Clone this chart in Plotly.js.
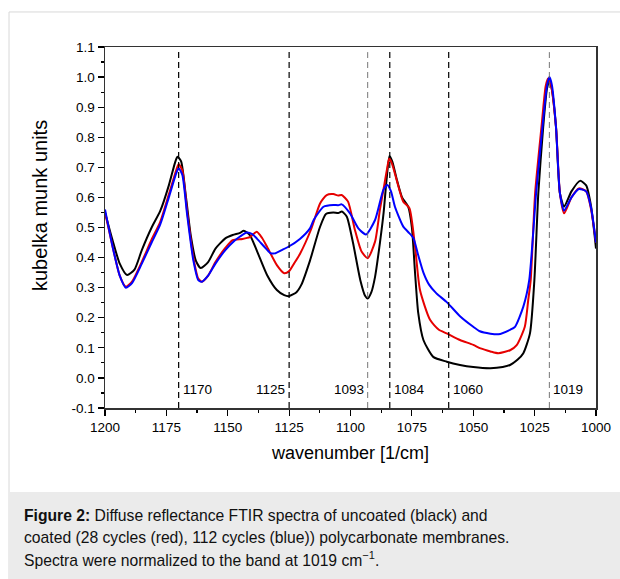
<!DOCTYPE html>
<html>
<head>
<meta charset="utf-8">
<script src="https://cdn.plot.ly/plotly-3.0.1.min.js"></script>
<style>
html,body{margin:0;padding:0;background:#fff;}
#chart{width:620px;height:579px;}
</style>
</head>
<body>
<div id="chart"></div>
<script>
// ---- data ----
const wnBlack = [1200,1197,1194,1191,1188,1185,1181,1177.5,1174,1171.5,1170.5,1169,1167,1165,1163,1161,1158,1155,1151,1148,1145,1143.5,1141,1138,1134,1130,1127,1125,1122,1120,1116.5,1112.5,1110,1107,1105,1103.5,1101.5,1099,1096,1094,1093,1091.5,1090,1088,1086.5,1085.3,1084.1,1083,1081,1079,1076.5,1075,1073.7,1072.4,1070.3,1066.3,1060.8,1055.4,1050,1043,1038,1035,1032,1029.6,1026.9,1025.1,1023.5,1021.5,1020,1019,1018,1016.3,1014.7,1013,1010,1006.5,1004,1002,1000];
const uncoated = [0.55,0.46,0.38,0.342,0.36,0.425,0.50,0.555,0.64,0.715,0.735,0.72,0.60,0.47,0.39,0.365,0.385,0.43,0.464,0.475,0.482,0.489,0.475,0.42,0.342,0.292,0.275,0.272,0.285,0.31,0.39,0.50,0.545,0.55,0.548,0.553,0.536,0.45,0.325,0.272,0.264,0.285,0.336,0.45,0.55,0.66,0.738,0.72,0.655,0.60,0.569,0.50,0.348,0.215,0.126,0.07,0.054,0.043,0.036,0.032,0.036,0.043,0.06,0.082,0.148,0.325,0.614,0.835,0.96,0.99,0.96,0.835,0.614,0.569,0.62,0.655,0.64,0.57,0.43];

const wnRed = [1200,1197,1194,1191.5,1189,1185,1181,1177.5,1174,1171,1170,1168.5,1166.5,1164,1162,1160.5,1158,1155,1151,1148,1144,1141,1138.2,1136,1134,1130,1127,1125,1123,1120.6,1116,1112.4,1109.7,1107,1105,1103.6,1101,1098.2,1095.5,1093,1090,1088,1086.6,1085,1084.2,1083,1081.2,1078.5,1076,1073.7,1071.7,1067.6,1064,1060.8,1055.4,1050,1047,1043,1039.8,1035,1032.3,1029,1027.6,1026.6,1024.8,1022.2,1020.5,1019.5,1018.5,1016.3,1014.7,1013,1010,1007,1004,1002,1000];
const cycles28 = [0.55,0.44,0.34,0.303,0.32,0.386,0.46,0.519,0.61,0.69,0.711,0.69,0.55,0.40,0.33,0.32,0.34,0.385,0.432,0.458,0.462,0.468,0.486,0.465,0.436,0.375,0.348,0.355,0.38,0.412,0.495,0.58,0.608,0.611,0.606,0.608,0.586,0.492,0.42,0.398,0.453,0.56,0.625,0.70,0.730,0.71,0.658,0.586,0.564,0.436,0.292,0.193,0.16,0.148,0.126,0.11,0.098,0.088,0.082,0.092,0.109,0.17,0.259,0.325,0.614,0.835,0.97,0.995,0.98,0.835,0.614,0.547,0.60,0.63,0.62,0.56,0.45];

const wnBlue = [1200,1197,1194,1191.5,1189,1185,1181,1177.5,1174,1171,1170,1168.5,1166.5,1164,1162,1160.5,1158,1155,1151,1147.7,1145,1142.3,1140,1138.2,1135,1132.8,1130.8,1128,1125.3,1120.6,1116.5,1115,1111,1107,1105,1103.6,1100.2,1096.8,1093.7,1090,1086.6,1085,1083.5,1081.9,1078.5,1076.5,1074.4,1072.5,1070.3,1068,1065,1060.8,1055.4,1050,1047.3,1043,1039.8,1035,1033,1029.6,1027.2,1024.4,1021.8,1020,1019,1018,1016.3,1014.7,1013,1010,1007,1004,1002,1000];
const cycles112 = [0.56,0.44,0.34,0.300,0.315,0.38,0.45,0.51,0.60,0.68,0.697,0.675,0.54,0.39,0.325,0.32,0.34,0.38,0.425,0.453,0.47,0.483,0.478,0.464,0.435,0.416,0.414,0.425,0.436,0.462,0.497,0.525,0.569,0.575,0.574,0.577,0.547,0.497,0.477,0.525,0.625,0.641,0.62,0.569,0.503,0.485,0.465,0.41,0.35,0.31,0.281,0.252,0.205,0.17,0.155,0.147,0.145,0.16,0.17,0.237,0.325,0.614,0.835,0.97,1.0,0.975,0.835,0.614,0.556,0.60,0.628,0.62,0.565,0.45];

const bands = [1170,1125,1093,1084,1060,1019];
const bandLabels = ['1170','1125','1093','1084','1060','1019'];
const xTickVals = [1200,1175,1150,1125,1100,1075,1050,1025,1000];
const yTickVals = [-0.1,0,0.1,0.2,0.3,0.4,0.5,0.6,0.7,0.8,0.9,1.0,1.1];
const yTickText = ['-0.1','0.0','0.1','0.2','0.3','0.4','0.5','0.6','0.7','0.8','0.9','1.0','1.1'];
const xTitle = 'wavenumber [1/cm]';
const yTitle = 'kubelka munk units';
const captionLines = [
  '<b>Figure 2:</b> Diffuse reflectance FTIR spectra of uncoated (black) and',
  'coated (28 cycles (red), 112 cycles (blue)) polycarbonate membranes.',
  'Spectra were normalized to the band at 1019 cm<sup>\u22121</sup>.'
];

// ---- styling ----
const FONT = 'Arial, "Liberation Sans", sans-serif';
const bandStyle = {1170:['#000',1.2,'left'],1125:['#000',1.2,'right'],1093:['#666',0.9,'right'],1084:['#000',1.2,'left'],1060:['#000',1.2,'left'],1019:['#666',0.9,'left']};

const traces = [
  {x: wnBlack, y: uncoated, mode:'lines', line:{color:'#000000', width:2, shape:'spline', smoothing:0.6}, name:'uncoated'},
  {x: wnRed, y: cycles28, mode:'lines', line:{color:'#e60000', width:2, shape:'spline', smoothing:0.6}, name:'28 cycles'},
  {x: wnBlue, y: cycles112, mode:'lines', line:{color:'#0000ff', width:2, shape:'spline', smoothing:0.6}, name:'112 cycles'}
];

const shapes = [];
// outer frame and caption background (paper coordinates)
shapes.push({type:'rect', xref:'paper', yref:'paper', x0:-0.1955, x1:1.09, y0:-0.49, y1:1.097, line:{color:'#d8d8d8', width:1}, fillcolor:'rgba(0,0,0,0)', layer:'below'});
shapes.push({type:'rect', xref:'paper', yref:'paper', x0:-0.1935, x1:1.09, y0:-0.49, y1:-0.2327, line:{width:0}, fillcolor:'#ebebeb', layer:'below'});
bands.forEach(b => {
  const s = bandStyle[b];
  shapes.push({type:'line', xref:'x', yref:'y', x0:b, x1:b, y0:-0.1, y1:1.083, line:{color:s[0], width:s[1], dash:'6px,4px'}});
});

const annotations = [];
bands.forEach((b,i) => {
  const s = bandStyle[b];
  annotations.push({x:b, y:-0.04, xref:'x', yref:'y', text:bandLabels[i], showarrow:false,
    xanchor: s[2], xshift: s[2]==='left' ? 2 : -2, yanchor:'middle', font:{family:FONT, size:13.5, color:'#000'}});
});
// y-axis title
annotations.push({x:-0.132, y:0.56, xref:'paper', yref:'paper', text:yTitle, textangle:-90, showarrow:false,
  xanchor:'center', yanchor:'middle', font:{family:FONT, size:20, color:'#000'}});
captionLines.forEach((t,i) => {
  annotations.push({x:-0.169, y:-0.2975 - i*0.0605, xref:'paper', yref:'paper', text:t, showarrow:false,
    xanchor:'left', yanchor:'middle', align:'left', font:{family:FONT, size:15.7, color:'#111'}});
});

const layout = {
  width:620, height:579,
  margin:{l:105, r:24, t:47, b:171, pad:0},
  paper_bgcolor:'#ffffff', plot_bgcolor:'#ffffff',
  showlegend:false,
  font:{family:FONT, color:'#000'},
  xaxis:{
    range:[1200,1000], tickvals:xTickVals, ticks:'outside', ticklen:6, tickwidth:1.2, tickcolor:'#000',
    showline:true, mirror:true, linecolor:'#333', linewidth:1.5, showgrid:false, zeroline:false,
    tickfont:{family:FONT, size:13.5, color:'#000'},
    minor:{dtick:12.5, tick0:1000, ticks:'outside', ticklen:3, tickcolor:'#000', showgrid:false},
    title:{text:xTitle, font:{family:FONT, size:18, color:'#000'}, standoff:12}
  },
  yaxis:{
    range:[-0.1,1.1], tickvals:yTickVals, ticktext:yTickText, ticks:'outside', ticklen:6, tickwidth:1.2, tickcolor:'#000',
    showline:true, mirror:true, linecolor:'#333', linewidth:1.5, showgrid:false, zeroline:false,
    tickfont:{family:FONT, size:13.5, color:'#000'},
    minor:{dtick:0.05, tick0:0, ticks:'outside', ticklen:3, tickcolor:'#000', showgrid:false}
  },
  shapes:shapes,
  annotations:annotations
};

Plotly.newPlot('chart', traces, layout, {displayModeBar:false, staticPlot:true});
</script>
</body>
</html>
